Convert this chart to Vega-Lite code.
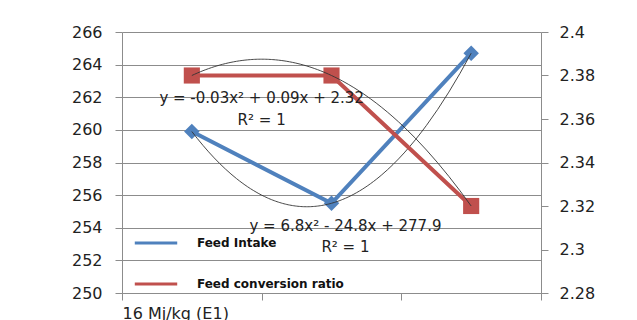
{
  "$schema": "https://vega.github.io/schema/vega-lite/v6.json",
  "width": 419,
  "height": 261,
  "autosize": "none",
  "padding": {"left": 122, "top": 32, "right": 96, "bottom": 27},
  "background": "white",
  "config": {
    "view": {"stroke": null},
    "axis": {
      "labelFont": "DejaVu Sans",
      "labelFontSize": 16,
      "labelColor": "#222222",
      "domainColor": "#8C8C8C",
      "tickColor": "#8C8C8C",
      "gridColor": "#8C8C8C",
      "tickSize": 7,
      "title": null
    }
  },
  "datasets": {
    "main": [
      {"x": 1, "fi": 259.9, "fcr": 2.38},
      {"x": 2, "fi": 255.5, "fcr": 2.38},
      {"x": 3, "fi": 264.7, "fcr": 2.32}
    ],
    "eqFI": [
      {"x": 2.1, "fi": 254.1, "label": "y = 6.8x² - 24.8x + 277.9"},
      {"x": 2.1, "fi": 252.8, "label": "R² = 1"}
    ],
    "eqFCR": [
      {"x": 1.5, "fcr": 2.3697, "label": "y = -0.03x² + 0.09x + 2.32"},
      {"x": 1.5, "fcr": 2.3595, "label": "R² = 1"}
    ]
  },
  "data": {"name": "main"},
  "encoding": {
    "x": {
      "field": "x",
      "type": "quantitative",
      "scale": {"domain": [0.5, 3.5], "nice": false, "zero": false},
      "axis": {
        "values": [0.5, 1.5, 2.5, 3.5],
        "grid": false,
        "labelExpr": "datum.value == 0.5 ? '16 Mj/kg (E1)' : ''",
        "labelAlign": "left",
        "labelPadding": 5,
        "labelFlush": false,
        "labelOverlap": false
      }
    }
  },
  "layer": [
    {
      "encoding": {
        "y": {
          "field": "fi",
          "type": "quantitative",
          "scale": {"domain": [250, 266], "nice": false, "zero": false},
          "axis": {
            "orient": "left",
            "values": [250, 252, 254, 256, 258, 260, 262, 264, 266],
            "grid": true,
            "labelPadding": 13
          }
        }
      },
      "layer": [
        {
          "mark": {"type": "line", "strokeWidth": 4},
          "encoding": {
            "color": {
              "datum": "Feed Intake",
              "type": "nominal",
              "scale": {"domain": ["Feed Intake", "Feed conversion ratio"], "range": ["#4F81BD", "#C0504D"]},
              "legend": {
                "orient": "none",
                "legendX": 11,
                "legendY": 188,
                "title": null,
                "symbolType": "stroke",
                "symbolSize": 1800,
                "symbolStrokeWidth": 3,
                "rowPadding": 12,
                "labelFont": "DejaVu Sans",
                "labelFontSize": 12,
                "labelFontWeight": "bold",
                "labelColor": "#111111",
                "labelOffset": 18
              }
            }
          }
        },
        {
          "mark": {"type": "point", "shape": "diamond", "filled": true, "opacity": 1, "size": 240, "color": "#4F81BD"}
        },
        {
          "transform": [{"regression": "fi", "on": "x", "method": "poly", "order": 2}],
          "mark": {"type": "line", "color": "#333333", "strokeWidth": 0.9}
        },
        {
          "data": {"name": "eqFI"},
          "mark": {"type": "text", "font": "DejaVu Sans", "fontSize": 15, "color": "#222222", "align": "center", "baseline": "middle"},
          "encoding": {"text": {"field": "label"}}
        }
      ]
    },
    {
      "encoding": {
        "y": {
          "field": "fcr",
          "type": "quantitative",
          "scale": {"domain": [2.28, 2.4], "nice": false, "zero": false},
          "axis": {
            "orient": "right",
            "values": [2.28, 2.3, 2.32, 2.34, 2.36, 2.38, 2.4],
            "format": ".2~f",
            "grid": false,
            "labelPadding": 11
          }
        }
      },
      "layer": [
        {
          "mark": {"type": "line", "strokeWidth": 4},
          "encoding": {
            "color": {"datum": "Feed conversion ratio", "type": "nominal"}
          }
        },
        {
          "mark": {"type": "point", "shape": "square", "filled": true, "opacity": 1, "size": 260, "color": "#C0504D"}
        },
        {
          "transform": [{"regression": "fcr", "on": "x", "method": "poly", "order": 2}],
          "mark": {"type": "line", "color": "#333333", "strokeWidth": 0.9}
        },
        {
          "data": {"name": "eqFCR"},
          "mark": {"type": "text", "font": "DejaVu Sans", "fontSize": 15, "color": "#222222", "align": "center", "baseline": "middle"},
          "encoding": {"text": {"field": "label"}}
        }
      ]
    }
  ],
  "resolve": {"scale": {"y": "independent"}, "axis": {"y": "independent"}}
}
